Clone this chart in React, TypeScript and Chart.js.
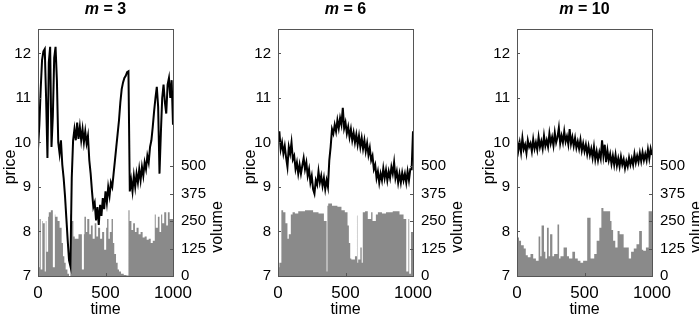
import { useEffect, useRef } from "react";
import { Chart, registerables } from "chart.js";

Chart.register(...registerables);

// ---------- data ----------
const priceTime = Array.from({ length: 101 }, (_, i) => i * 10);
const xTickValues = [0, 500, 1000];
const priceTickValues = [7, 8, 9, 10, 11, 12];
const volumeTickValues = [0, 125, 250, 375, 500];

const priceM3 = [
  9.85, 10.4, 11.2, 11.85, 12.05, 12.1, 11.0, 9.65, 11.8, 12.15,
  9.9, 10.6, 11.9, 12.15, 11.4, 10.0, 9.75, 10.05, 9.5, 9.2,
  8.8, 8.3, 7.8, 7.35, 7.22, 9.2, 10.05, 10.3, 10.05, 10.45,
  10.08, 10.35, 10.05, 10.3, 10.0, 10.25, 9.98, 10.15, 9.6, 9.3,
  8.9, 8.55, 8.65, 8.25, 8.55, 8.15, 8.6, 8.35, 8.75, 8.5,
  8.9, 8.65, 9.0, 8.8, 9.1, 9.0, 9.3, 9.6, 9.9, 10.2,
  10.5, 10.9, 11.2, 11.35, 11.45, 11.5, 11.58, 11.6, 8.9, 9.15,
  8.9, 9.25, 9.0, 9.3, 9.1, 9.4, 9.15, 9.45, 9.25, 9.55,
  9.4, 9.7, 9.55, 9.9, 10.05, 10.35, 10.7, 11.0, 11.25, 10.8,
  9.3, 10.2, 11.0, 11.3, 10.9, 10.65, 11.3, 11.45, 11.0, 11.4,
  10.4,
];

const priceM6 = [
  10.0, 10.25, 9.85, 10.0, 9.75, 9.92, 9.66, 9.45, 9.9, 9.75,
  10.0, 9.62, 9.7, 9.4, 9.55, 9.3, 9.5, 9.3, 9.48, 9.65,
  9.4, 9.55, 9.25, 9.4, 9.1, 9.25, 8.95, 8.85, 9.15, 9.05,
  9.35, 9.1, 9.25, 9.02, 9.2, 8.95, 9.15, 9.0, 9.6, 9.9,
  10.3, 10.2, 10.4, 10.25, 10.5, 10.32, 10.55, 10.4, 10.78, 10.32,
  10.45, 10.2, 10.35, 10.12, 10.3, 10.05, 10.22, 10.0, 10.18, 9.95,
  10.15, 9.9, 10.1, 9.86, 10.05, 9.8, 9.98, 9.72, 9.88, 9.6,
  9.7, 9.4, 9.5, 9.2, 9.35, 9.1, 9.3, 9.15, 9.42, 9.2,
  9.38, 9.15, 9.35, 9.2, 9.45, 9.3, 9.55, 9.2, 9.35, 9.1,
  9.3, 9.1, 9.32, 9.15, 9.3, 9.1, 9.35, 9.15, 9.4, 9.4,
  10.25,
];

const priceM10 = [
  10.08, 9.82, 10.0, 9.78, 10.1, 9.85, 9.95, 9.76, 10.05, 9.9,
  9.98, 9.8, 10.07, 9.86, 10.0, 9.84, 10.12, 9.9, 10.03, 9.86,
  10.15, 9.92, 10.05, 9.9, 10.2, 9.98, 10.12, 9.93, 10.22, 10.0,
  10.12, 10.33, 9.98, 10.15, 10.0, 10.25, 10.02, 10.14, 9.96, 10.3,
  9.97, 10.12, 9.92, 10.1, 9.88, 10.02, 9.86, 10.06, 9.82, 9.98,
  9.8, 9.95, 9.74, 9.92, 9.72, 9.86, 9.66, 9.9, 9.62, 9.8,
  9.6, 9.78, 9.64, 10.05, 9.7, 9.95, 9.56, 9.82, 9.6, 9.74,
  9.52, 9.7, 9.5, 9.72, 9.48, 9.64, 9.46, 9.68, 9.5, 9.62,
  9.42, 9.58, 9.46, 9.66, 9.5, 9.64, 9.5, 9.74, 9.55, 9.7,
  9.56, 9.76, 9.58, 9.78, 9.6, 9.74, 9.6, 9.84, 9.64, 9.86,
  9.72,
];

const volTimeM3 = [
  0, 12, 20, 32, 36, 50, 58, 62, 75, 80, 95, 110, 125, 128, 145, 160, 175, 185, 195, 205,
  218, 230, 240, 246, 262, 272, 300, 325, 340, 344, 355, 365, 380, 392, 405, 420, 432, 445, 460, 475,
  490, 505, 512, 522, 532, 545, 555, 565, 578, 590, 600, 615, 635, 655, 670, 678, 692, 705, 718, 730,
  745, 760, 775, 790, 805, 820, 835, 850, 865, 872, 888, 900, 912, 920, 935, 950, 962, 975, 990, 1000,
];
const volumeM3 = [
  80, 40, 260, 30, 250, 240, 20, 250, 110, 270, 290, 300, 40, 280, 270, 250, 220, 150, 90, 60,
  30, 10, 0, 280, 250, 180, 170, 190, 30, 190, 270, 200, 260, 190, 230, 170, 240, 180, 220, 170,
  200, 120, 220, 260, 170, 200, 260, 150, 100, 60, 30, 20, 10, 5, 2, 300, 250, 210, 240, 200,
  220, 190, 200, 175, 180, 165, 170, 150, 160, 280, 220, 270, 200, 280, 240, 290, 230, 290, 260, 260,
];

const volTimeM6 = [
  0, 10, 25, 38, 55, 70, 80, 95, 108, 125, 150, 200, 260, 300, 340, 360, 366, 372, 400, 440,
  470, 495, 515, 525, 535, 543, 570, 585, 588, 594, 610, 620, 628, 645, 665, 690, 700, 725, 740, 770,
  800, 850, 900, 930, 950, 966, 972, 985, 992, 1000,
];
const volumeM6 = [
  55, 40, 60, 300, 290, 240, 170, 190, 280, 290, 285, 295, 300, 290, 285, 250, 20, 320, 330, 320,
  315, 300, 290, 230, 150, 80, 75, 90, 275, 60, 75, 130, 60, 290, 295, 260, 290, 250, 280, 290,
  285, 290, 295, 280, 260, 20, 260, 10, 200, 200,
];

const volTimeM10 = [
  0, 15, 30, 50, 65, 80, 100, 120, 140, 160, 172, 182, 200, 210, 222, 235, 245, 262, 275, 300,
  312, 322, 345, 370, 385, 410, 430, 450, 470, 490, 520, 545, 572, 590, 610, 625, 640, 690, 700, 712,
  728, 745, 760, 790, 828, 845, 865, 885, 905, 925, 935, 955, 975, 985, 1000,
];
const volumeM10 = [
  250, 175, 160, 140, 125, 95, 85, 100, 80, 70, 180, 90, 230, 110, 80, 220, 90, 190, 90, 100,
  235, 80, 90, 130, 90, 80, 110, 80, 70, 60, 70, 265, 80, 100, 160, 220, 310, 295, 250, 210,
  160, 130, 205, 190, 130, 80, 110, 125, 145, 205, 120, 115, 130, 295, 295,
];

// ---------- layout / style ----------
const FONT = "'Liberation Sans', Arial, Helvetica, sans-serif";
const H = 318;
const PLOT_TOP = 29;
const PLOT_BOTTOM = 276;

const panels = [
  { m: "3", price: priceM3, volT: volTimeM3, vol: volumeM3, left: 0, width: 239, padL: 38, padR: 66 },
  { m: "6", price: priceM6, volT: volTimeM6, vol: volumeM6, left: 239, width: 239, padL: 39, padR: 65 },
  { m: "10", price: priceM10, volT: volTimeM10, vol: volumeM10, left: 478, width: 221, padL: 39, padR: 47 },
];

const decorPlugin = {
  id: "decor",
  afterDatasetsDraw(chart: any) {
    const { ctx, chartArea } = chart;
    const { left, right, top, bottom } = chartArea;
    const sx = chart.scales.x;
    const sy = chart.scales.y;
    const sy1 = chart.scales.y1;
    ctx.save();
    ctx.strokeStyle = "#555555";
    ctx.lineWidth = 1;
    ctx.strokeRect(Math.round(left) + 0.5, Math.round(top) + 0.5, Math.round(right - left), Math.round(bottom - top));
    ctx.beginPath();
    for (const v of priceTickValues) {
      const y = Math.round(sy.getPixelForValue(v)) + 0.5;
      ctx.moveTo(left, y);
      ctx.lineTo(left + 3, y);
    }
    for (const v of volumeTickValues) {
      const y = Math.round(sy1.getPixelForValue(v)) + 0.5;
      ctx.moveTo(right, y);
      ctx.lineTo(right - 3, y);
    }
    for (const v of xTickValues) {
      const x = Math.round(sx.getPixelForValue(v)) + 0.5;
      ctx.moveTo(x, bottom);
      ctx.lineTo(x, bottom - 3);
    }
    ctx.stroke();
    ctx.restore();
  },
  afterDraw(chart: any, _args: any, opts: any) {
    const { ctx, chartArea } = chart;
    const { left, right } = chartArea;
    const cx = (left + right) / 2;
    ctx.save();
    ctx.fillStyle = "#000";
    ctx.textBaseline = "middle";
    ctx.font = `italic bold 16px ${FONT}`;
    const mW = ctx.measureText("m").width;
    ctx.font = `bold 16px ${FONT}`;
    const rest = " = " + opts.m;
    const rW = ctx.measureText(rest).width;
    const startX = cx - (mW + rW) / 2;
    ctx.textAlign = "left";
    ctx.font = `italic bold 16px ${FONT}`;
    ctx.fillText("m", startX, 10);
    ctx.font = `bold 16px ${FONT}`;
    ctx.fillText(rest, startX + mW, 10);
    ctx.font = `16px ${FONT}`;
    ctx.textAlign = "center";
    ctx.fillText("time", cx, 310);
    ctx.save();
    ctx.translate(left - 27, 167);
    ctx.rotate(-Math.PI / 2);
    ctx.fillText("price", 0, 0);
    ctx.restore();
    ctx.save();
    ctx.translate(right + 45, 227);
    ctx.rotate(-Math.PI / 2);
    ctx.fillText("volume", 0, 0);
    ctx.restore();
    ctx.restore();
  },
};

function Panel({ p }: { p: (typeof panels)[number] }) {
  const ref = useRef<HTMLCanvasElement | null>(null);
  useEffect(() => {
    if (!ref.current) return;
    const priceData = p.price.map((v, i) => ({ x: priceTime[i], y: v }));
    const volData = p.vol.map((v, i) => ({ x: p.volT[i], y: v }));
    const tickFont = { family: FONT, size: 15 };
    const plain = (v: any) => String(v);
    const chart = new Chart(ref.current, {
      type: "line",
      data: {
        datasets: [
          {
            data: priceData,
            yAxisID: "y",
            borderColor: "#000000",
            borderWidth: 2,
            pointRadius: 0,
            tension: 0,
            fill: false,
          },
          {
            data: volData,
            yAxisID: "y1",
            stepped: "after",
            borderWidth: 0,
            borderColor: "rgba(0,0,0,0)",
            backgroundColor: "#8a8a8a",
            pointRadius: 0,
            fill: "origin",
          },
        ],
      },
      options: {
        responsive: false,
        maintainAspectRatio: false,
        animation: false,
        devicePixelRatio: 1,
        layout: { padding: { top: PLOT_TOP, left: 0, right: 0, bottom: 0 } },
        plugins: {
          legend: { display: false },
          tooltip: { enabled: false },
          decor: { m: p.m },
        } as any,
        scales: {
          x: {
            type: "linear",
            min: 0,
            max: 1000,
            grid: { display: false, drawTicks: false },
            border: { display: false },
            ticks: { font: { family: FONT, size: 17 }, color: "#000", padding: 7, maxRotation: 0, callback: plain },
            afterBuildTicks: (s: any) => {
              s.ticks = xTickValues.map((v) => ({ value: v }));
            },
            afterFit: (s: any) => {
              s.height = H - PLOT_BOTTOM;
            },
          },
          y: {
            type: "linear",
            position: "left",
            min: 7,
            max: 12.55,
            grid: { display: false, drawTicks: false },
            border: { display: false },
            ticks: { font: tickFont, color: "#000", padding: 7, callback: plain },
            afterBuildTicks: (s: any) => {
              s.ticks = priceTickValues.map((v) => ({ value: v }));
            },
            afterFit: (s: any) => {
              s.width = p.padL;
            },
          },
          y1: {
            type: "linear",
            position: "right",
            min: 0,
            max: 1125,
            grid: { display: false, drawTicks: false },
            border: { display: false },
            ticks: { font: tickFont, color: "#000", padding: 8, callback: plain },
            afterBuildTicks: (s: any) => {
              s.ticks = volumeTickValues.map((v) => ({ value: v }));
            },
            afterFit: (s: any) => {
              s.width = p.padR;
            },
          },
        } as any,
      },
      plugins: [decorPlugin],
    });
    return () => chart.destroy();
  }, [p]);
  return (
    <canvas
      ref={ref}
      width={p.width}
      height={H}
      style={{ position: "absolute", left: p.left, top: 0, width: p.width, height: H }}
    />
  );
}

export default function App() {
  return (
    <div style={{ position: "absolute", left: 0, top: 0, width: 699, height: H, background: "#fff", overflow: "hidden" }}>
      {panels.map((p) => (
        <Panel key={p.m} p={p} />
      ))}
    </div>
  );
}
